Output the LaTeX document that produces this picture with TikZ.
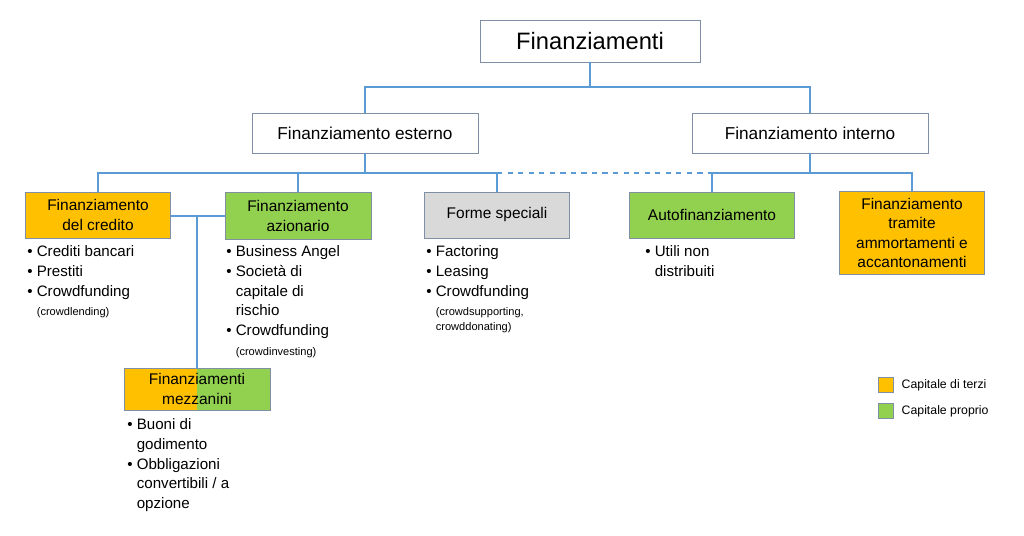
\documentclass[tikz,border=0pt]{standalone}
\usepackage{fontspec}
\setmainfont{Liberation Sans}
\usetikzlibrary{positioning}
\definecolor{arancio}{HTML}{FFC000}
\definecolor{verde}{HTML}{92D050}
\definecolor{grigio}{HTML}{D9D9D9}
\definecolor{linea}{HTML}{5B9BD5}
\definecolor{bordo}{HTML}{7F8FA6}
\newcommand{\bul}{\textbullet~}
\newcommand{\ind}{\hphantom{\textbullet~}}
\newcommand{\nota}[1]{{\fontsize{6.3}{9}\selectfont #1}}
\tikzset{
  box/.style={draw=bordo, line width=0.5pt, align=center, inner sep=0pt},
  lista/.style={anchor=north west, align=left, inner sep=0pt,
    font=\fontsize{8.6}{11.3}\selectfont},
  conn/.style={draw=linea, line width=0.7pt},
  leg/.style={draw=bordo, minimum size=0.3cm, inner sep=0pt}
}
\begin{document}
\begin{tikzpicture}[x=0.02cm, y=-0.02cm]
    \useasboundingbox (0,0) rectangle (1024,536);
    % caselle
    \node[box, minimum width=4.4cm, minimum height=0.84cm, font=\fontsize{13.5}{16}\selectfont] (fin) at (590,41) {Finanziamenti};
    \node[box, minimum width=4.52cm, minimum height=0.8cm, font=\fontsize{9.8}{12}\selectfont] (est) at (365,133) {Finanziamento esterno};
    \node[box, minimum width=4.72cm, minimum height=0.8cm, font=\fontsize{9.8}{12}\selectfont] (int) at (810,133) {Finanziamento interno};
    \node[box, fill=arancio, minimum width=2.9cm, minimum height=0.92cm, font=\fontsize{8.8}{11}\selectfont] (cred) at (98,215) {Finanziamento\\del credito};
    \node[box, fill=verde, minimum width=2.92cm, minimum height=0.94cm, font=\fontsize{8.8}{11}\selectfont] (az) at (298,216) {Finanziamento\\azionario};
    \node[box, fill=grigio, minimum width=2.9cm, minimum height=0.92cm, font=\fontsize{8.8}{11}\selectfont] (spec) at (497,215) {Forme speciali};
    \node[box, fill=verde, minimum width=3.3cm, minimum height=0.92cm, font=\fontsize{8.8}{11}\selectfont] (auto) at (712,215) {Autofinanziamento};
    \node[box, fill=arancio, minimum width=2.9cm, minimum height=1.66cm, font=\fontsize{8.8}{11}\selectfont] (amm) at (912,233) {Finanziamento\\tramite\\ammortamenti e\\accantonamenti};
    \fill[arancio] (124,368) rectangle (197,410);
    \fill[verde] (197,368) rectangle (270,410);
    \node[box, minimum width=2.92cm, minimum height=0.84cm, font=\fontsize{8.8}{11}\selectfont] (mezz) at (197,389) {Finanziamenti\\mezzanini};
    % connettori
    \coordinate (r1) at (590,87);
    \coordinate (r2) at (98,173);
    \coordinate (r3) at (712,173);
    \draw[conn] (fin.south) -- (r1) -| (est.north);
    \draw[conn] (r1) -| (int.north);
    \draw[conn] (est.south) -- (est.south |- r2);
    \draw[conn] (cred.north) -- (r2) -| (spec.north);
    \draw[conn] (az.north) -- (az.north |- r2);
    \draw[conn, dashed] (spec.north |- r2) -- (r3);
    \draw[conn] (int.south) -- (int.south |- r3);
    \draw[conn] (auto.north) -- (r3) -| (amm.north);
    \draw[conn] (cred.east |- az.west) -- (az.west);
    \draw[conn] (mezz.north) -- (mezz.north |- az.west);
    % elenchi
    \node[lista] (lcred) at (27,245) {\bul Crediti bancari\\\bul Prestiti\\\bul Crowdfunding\\\ind\nota{(crowdlending)}};
    \node[lista] (laz) at (226,245) {\bul Business Angel\\\bul Società di\\\ind capitale di\\\ind rischio\\\bul Crowdfunding\\\ind\nota{(crowdinvesting)}};
    \node[lista] (lspec) at (426,245) {\bul Factoring\\\bul Leasing\\\bul Crowdfunding\\\ind\nota{(crowdsupporting,}\\[-3pt]\ind\nota{crowddonating)}};
    \node[lista] (lauto) at (645,245) {\bul Utili non\\\ind distribuiti};
    \node[lista] (lmezz) at (127,418) {\bul Buoni di\\\ind godimento\\\bul Obbligazioni\\\ind convertibili / a\\\ind opzione};
    % legenda
    \node[leg, fill=arancio] (la) at (886,385) {};
    \node[leg, fill=verde] (lv) at (886,411) {};
    \node[right=0.15cm of la, inner sep=0pt, font=\fontsize{7}{9}\selectfont] {Capitale di terzi};
    \node[right=0.15cm of lv, inner sep=0pt, font=\fontsize{7}{9}\selectfont] {Capitale proprio};
\end{tikzpicture}
\end{document}
